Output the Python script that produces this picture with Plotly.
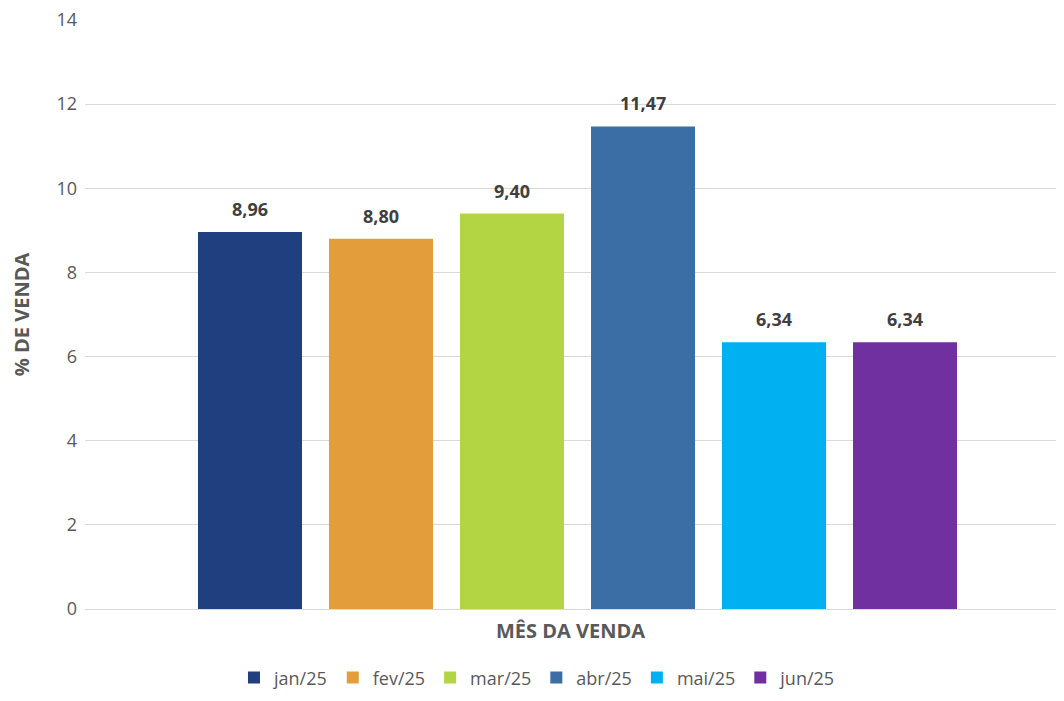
import plotly.graph_objects as go

meses = ["jan/25", "fev/25", "mar/25", "abr/25", "mai/25", "jun/25"]
valores = [8.96, 8.80, 9.40, 11.47, 6.34, 6.34]
cores = ["#203F7E", "#E39D3B", "#B3D543", "#3A6EA4", "#00B0F0", "#7030A0"]
y_ticks = [0, 2, 4, 6, 8, 10, 12, 14]

fig = go.Figure()
for m, v, c in zip(meses, valores, cores):
    fig.add_trace(go.Bar(
        x=[m], y=[v], name=m, marker=dict(color=c, line=dict(width=0)),
        hoverinfo="name+y",
    ))
    fig.add_annotation(
        x=m, y=v, text="<b>" + f"{v:.2f}".replace(".", ",") + "</b>",
        showarrow=False, yanchor="middle", yshift=23,
        font=dict(family="Open Sans", size=18, color="#404040"),
    )

fig.update_layout(
    width=1048, height=685,
    barmode="overlay", bargap=0.206,
    paper_bgcolor="white", plot_bgcolor="white",
    margin=dict(l=77, r=0, t=12, b=84, autoexpand=False),
    font=dict(family="Open Sans", color="#595959"),
    xaxis=dict(type="category", range=[-1.2595, 6.1525], showticklabels=False,
               showgrid=False, showline=False, zeroline=False, ticks="",
               title=dict(text="<b>MÊS DA VENDA</b>", font=dict(size=20, color="#595959"), standoff=14)),
    yaxis=dict(range=[0, 14], tickvals=y_ticks, showgrid=True, gridcolor="#D9D9D9", gridwidth=1,
               zeroline=True, zerolinecolor="#D9D9D9", zerolinewidth=1,
               tickfont=dict(size=18, color="#595959"), ticklabelstandoff=7,
               ticklabeloverflow="allow",
               title=dict(text="<b>% DE VENDA</b>", font=dict(size=20, color="#595959"), standoff=26)),
    legend=dict(orientation="h", x=0.466, xanchor="center", y=-0.117, yanchor="middle",
                font=dict(size=18, color="#595959"), traceorder="normal"),
    showlegend=True,
)

fig.write_html("out.html")
